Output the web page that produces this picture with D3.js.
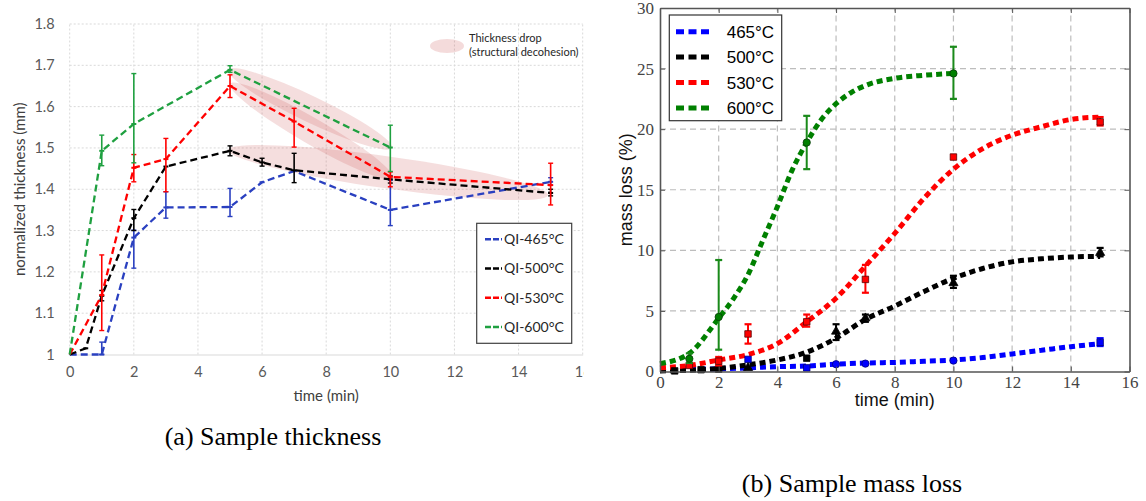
<!DOCTYPE html>
<html>
<head>
<meta charset="utf-8">
<script src="https://cdn.jsdelivr.net/npm/d3@7"></script>
<style>
body { margin: 0; background: #fff; }
svg { display: block; }
</style>
</head>
<body>
<svg id="fig" width="1146" height="501"></svg>
<script>
// ---- (a) sample thickness ----
var thickLabels = ["QI-465°C", "QI-500°C", "QI-530°C", "QI-600°C"];
var thickColors = ["#2a40c0", "#000000", "#ff0000", "#1fa040"];

var t465 = [0, 1, 2, 3, 5, 6, 7, 10, 15];
var h465 = [1.0, 1.0, 1.283, 1.356, 1.357, 1.417, 1.444, 1.350, 1.418];
var e465 = [null, [1.0, 1.03], [1.209, 1.301], [1.330, 1.394], [1.334, 1.402], null, null, [1.312, 1.422], [1.41, 1.428]];

var t500 = [0, 0.5, 1, 2, 3, 5, 6, 7, 10, 15];
var h500 = [1.0, 1.015, 1.142, 1.33, 1.455, 1.493, 1.465, 1.446, 1.424, 1.391];
var e500 = [null, null, [1.13, 1.155], [1.30, 1.351], null, [1.481, 1.505], [1.456, 1.475], [1.416, 1.487], [1.415, 1.432], [1.384, 1.40]];

var t530 = [0, 1, 2, 3, 5, 7, 10, 15];
var h530 = [1.0, 1.144, 1.452, 1.473, 1.650, 1.564, 1.430, 1.410];
var e530 = [null, [1.058, 1.241], [1.418, 1.484], [1.394, 1.523], [1.622, 1.677], [1.502, 1.596], [1.406, 1.442], [1.362, 1.463]];

var t600 = [0, 1, 2, 5, 10];
var h600 = [1.0, 1.493, 1.558, 1.689, 1.501];
var e600 = [null, [1.457, 1.531], [1.464, 1.680], [1.683, 1.699], [1.443, 1.555]];

// "thickness drop" zones: start and end of each band (time, thickness)
var dropFrom = [[4.94, 1.689], [5.0, 1.655], [4.94, 1.495]];
var dropTo   = [[10.05, 1.50], [10.08, 1.427], [14.92, 1.386]];

var thickXTicks = [0, 2, 4, 6, 8, 10, 12, 14, 16];
var thickYTicks = [1, 1.1, 1.2, 1.3, 1.4, 1.5, 1.6, 1.7, 1.8];

// ---- (b) sample mass loss ----
var massLabels = ["465°C", "500°C", "530°C", "600°C"];
var massColors = ["#0000ff", "#000000", "#ff0000", "#008000"];

// fitted curves
var fitT = [0, 1, 2, 3, 4, 5, 6, 7, 8, 9, 10, 11, 12, 13, 14, 15];
var fit465 = [0.15, 0.18, 0.22, 0.3, 0.4, 0.45, 0.6, 0.7, 0.75, 0.85, 0.95, 1.15, 1.45, 1.75, 2.05, 2.3];
var fit500 = [0.05, 0.1, 0.25, 0.55, 0.95, 1.6, 2.75, 4.3, 5.4, 6.6, 7.7, 8.5, 9.05, 9.3, 9.45, 9.5];
var fit530 = [0.3, 0.5, 0.95, 1.4, 2.3, 4.1, 6.05, 8.7, 11.4, 14.3, 16.7, 18.4, 19.5, 20.2, 20.8, 21.0];
var fit600T = [0, 1, 2, 2.5, 3, 3.5, 4, 4.5, 5, 5.5, 6, 6.5, 7, 8, 9, 10];
var fit600 = [0.65, 1.5, 4.4, 6.0, 8.0, 10.8, 13.6, 16.6, 18.9, 20.8, 22.1, 23.0, 23.6, 24.2, 24.45, 24.6];

// measured points (marker: c circle, s square, t triangle)
var p465T = [3, 5, 6, 7, 10, 15];
var p465 = [1.0, 0.3, 0.6, 0.65, 0.9, 2.4];
var p465E = [null, null, null, null, null, [2.1, 2.75]];
var p465M = ["s", "s", "c", "c", "c", "s"];

var p500T = [0.5, 1.4, 2, 3, 5, 6, 7, 10, 15];
var p500 = [0.05, 0.15, 0.2, 0.3, 1.1, 3.3, 4.4, 7.3, 9.8];
var p500E = [null, null, null, null, null, [2.6, 3.9], [4.1, 4.7], [6.9, 7.9], [9.5, 10.2]];
var p500M = ["s", "s", "s", "t", "s", "t", "t", "t", "t"];

var p530T = [1, 2, 3, 5, 7, 10, 15];
var p530 = [0.5, 0.85, 3.1, 4.1, 7.6, 17.7, 20.6];
var p530E = [null, [0.5, 1.2], [2.3, 3.9], [3.7, 4.7], [6.5, 8.8], null, [20.3, 21.0]];
var p530M = ["s", "s", "s", "s", "s", "s", "s"];

var p600T = [1, 2, 5, 10];
var p600 = [1.05, 4.5, 18.9, 24.6];
var p600E = [[0.7, 1.5], [1.8, 9.2], [16.7, 21.1], [22.5, 26.8]];
var p600M = ["c", "c", "c", "c"];

var massXTicks = [0, 2, 4, 6, 8, 10, 12, 14, 16];
var massYTicks = [0, 5, 10, 15, 20, 25, 30];

var svg = d3.select("#fig");

function zip(ts, vs, es, ms) {
  return ts.map(function(t, i) {
    return { t: t, v: vs[i], e: es ? es[i] : null, m: ms ? ms[i] : null };
  });
}

// =========================== chart (a) ===========================
var sansA = "Lato, 'Open Sans', sans-serif";
var xA = d3.scaleLinear().domain([0, 16]).range([69.7, 582.7]);
var yA = d3.scaleLinear().domain([1, 1.8]).range([354.5, 24]);

// the original panel is cropped just right of the last tick
svg.append("clipPath").attr("id", "clipA").append("rect")
  .attr("x", 0).attr("y", 0).attr("width", 584).attr("height", 420);
var gA = svg.append("g").attr("clip-path", "url(#clipA)");

// dotted grid
gA.append("g").selectAll("line").data(thickYTicks.slice(1)).enter().append("line")
  .attr("x1", xA(0)).attr("x2", xA(16))
  .attr("y1", function(d) { return yA(d); }).attr("y2", function(d) { return yA(d); })
  .attr("stroke", "#d9d9d9").attr("stroke-width", 1).attr("stroke-dasharray", "2,2");
gA.append("g").selectAll("line").data(thickXTicks).enter().append("line")
  .attr("x1", function(d) { return xA(d); }).attr("x2", function(d) { return xA(d); })
  .attr("y1", yA(1)).attr("y2", yA(1.8))
  .attr("stroke", "#d9d9d9").attr("stroke-width", 1).attr("stroke-dasharray", "2,2");

// drop zones
var dropHalf = [13, 13, 16];
dropFrom.forEach(function(a, i) {
  var b = dropTo[i];
  var x1 = xA(a[0]), y1 = yA(a[1]), x2 = xA(b[0]), y2 = yA(b[1]);
  var cx = (x1 + x2) / 2, cy = (y1 + y2) / 2;
  var len = Math.sqrt((x2 - x1) * (x2 - x1) + (y2 - y1) * (y2 - y1));
  var ang = Math.atan2(y2 - y1, x2 - x1) * 180 / Math.PI;
  gA.append("ellipse")
    .attr("cx", 0).attr("cy", 0).attr("rx", len / 2).attr("ry", dropHalf[i])
    .attr("transform", "translate(" + cx + "," + cy + ") rotate(" + ang + ")")
    .attr("fill", "rgb(205,90,90)").attr("fill-opacity", 0.2);
});

// axes
var axA_x = d3.axisBottom(xA).tickValues(thickXTicks).tickSize(0).tickPadding(12).tickFormat(d3.format("d"));
var axA_y = d3.axisLeft(yA).tickValues(thickYTicks).tickSize(0).tickPadding(15)
  .tickFormat(function(d) { return d === 1 ? "1" : d3.format(".1f")(d); });
var gax = gA.append("g").attr("transform", "translate(0," + yA(1) + ")").call(axA_x);
gax.select(".domain").attr("stroke", "#d9d9d9").attr("stroke-width", 1.2);
var gay = gA.append("g").attr("transform", "translate(" + xA(0) + ",0)").call(axA_y);
gay.select(".domain").remove();
gA.selectAll(".tick text").attr("fill", "#595959").style("font-family", sansA).style("font-size", "14.5px");

gA.append("text").attr("x", (xA(0) + xA(16)) / 2).attr("y", 401)
  .attr("text-anchor", "middle").attr("fill", "#404040")
  .style("font-family", sansA).style("font-size", "15px").text("time (min)");
gA.append("text").attr("transform", "translate(25," + ((yA(1) + yA(1.8)) / 2) + ") rotate(-90)")
  .attr("text-anchor", "middle").attr("fill", "#404040")
  .style("font-family", sansA).style("font-size", "15px").text("normalized thickness (mm)");

// series
var thickSeries = [zip(t465, h465, e465), zip(t500, h500, e500), zip(t530, h530, e530), zip(t600, h600, e600)];
var lineA = d3.line().x(function(d) { return xA(d.t); }).y(function(d) { return yA(d.v); });
thickSeries.forEach(function(s, i) {
  var c = thickColors[i];
  var gs = gA.append("g");
  gs.append("path").attr("d", lineA(s)).attr("fill", "none").attr("stroke", c)
    .attr("stroke-width", 2.3).attr("stroke-dasharray", "7,4");
  var eb = s.filter(function(d) { return d.e; });
  gs.selectAll(".eb").data(eb).enter().append("line")
    .attr("x1", function(d) { return xA(d.t); }).attr("x2", function(d) { return xA(d.t); })
    .attr("y1", function(d) { return yA(d.e[0]); }).attr("y2", function(d) { return yA(d.e[1]); })
    .attr("stroke", c).attr("stroke-width", 1.6);
  [0, 1].forEach(function(k) {
    gs.selectAll(".cap" + k).data(eb).enter().append("line")
      .attr("x1", function(d) { return xA(d.t) - 2.5; }).attr("x2", function(d) { return xA(d.t) + 2.5; })
      .attr("y1", function(d) { return yA(d.e[k]); }).attr("y2", function(d) { return yA(d.e[k]); })
      .attr("stroke", c).attr("stroke-width", 1.4);
  });
  gs.selectAll(".mk").data(s.slice(1)).enter().append("line")
    .attr("x1", function(d) { return xA(d.t) - 2.5; }).attr("x2", function(d) { return xA(d.t) + 2.5; })
    .attr("y1", function(d) { return yA(d.v); }).attr("y2", function(d) { return yA(d.v); })
    .attr("stroke", c).attr("stroke-width", 2);
});

// legend (a)
var legA = gA.append("g");
legA.append("rect").attr("x", 476.7).attr("y", 223.3).attr("width", 95).attr("height", 120)
  .attr("fill", "#fff").attr("stroke", "#404040").attr("stroke-width", 1.2);
thickLabels.forEach(function(lab, i) {
  var yy = 239.3 + i * 29.2;
  legA.append("line").attr("x1", 485).attr("x2", 502).attr("y1", yy).attr("y2", yy)
    .attr("stroke", thickColors[i]).attr("stroke-width", 2.5).attr("stroke-dasharray", "6,2");
  legA.append("text").attr("x", 504).attr("y", yy).attr("dy", "0.35em").attr("fill", "#262626")
    .style("font-family", sansA).style("font-size", "14px").text(lab);
});
legA.append("ellipse").attr("cx", 447).attr("cy", 46).attr("rx", 17).attr("ry", 7)
  .attr("fill", "rgb(205,90,90)").attr("fill-opacity", 0.22);
legA.append("text").attr("x", 469).attr("y", 42).attr("fill", "#262626")
  .style("font-family", sansA).style("font-size", "11px").text("Thickness drop");
legA.append("text").attr("x", 469).attr("y", 56).attr("fill", "#262626")
  .style("font-family", sansA).style("font-size", "11px").text("(structural decohesion)");

// =========================== chart (b) ===========================
var serif = "'Liberation Serif', 'DejaVu Serif', serif";
var sansB = "'Liberation Sans', Arial, sans-serif";
var xB = d3.scaleLinear().domain([0, 16]).range([660, 1129.5]);
var yB = d3.scaleLinear().domain([0, 30]).range([371.5, 8]);
var gB = svg.append("g");

// dashed grid
gB.append("g").selectAll("line").data(massYTicks.slice(1, -1)).enter().append("line")
  .attr("x1", xB(0)).attr("x2", xB(16))
  .attr("y1", function(d) { return yB(d); }).attr("y2", function(d) { return yB(d); })
  .attr("stroke", "#bdbdbd").attr("stroke-width", 1.2).attr("stroke-dasharray", "6,4");
gB.append("g").selectAll("line").data(massXTicks.slice(1, -1)).enter().append("line")
  .attr("x1", function(d) { return xB(d); }).attr("x2", function(d) { return xB(d); })
  .attr("y1", yB(0)).attr("y2", yB(30))
  .attr("stroke", "#bdbdbd").attr("stroke-width", 1.2).attr("stroke-dasharray", "6,4");

// fitted curves
var fits = [zip(fitT, fit465), zip(fitT, fit500), zip(fitT, fit530), zip(fit600T, fit600)];
var lineB = d3.line().curve(d3.curveMonotoneX)
  .x(function(d) { return xB(d.t); }).y(function(d) { return yB(d.v); });
fits.forEach(function(s, i) {
  gB.append("path").attr("d", lineB(s)).attr("fill", "none").attr("stroke", massColors[i])
    .attr("stroke-width", 5).attr("stroke-dasharray", "6,4");
});

// measured points with error bars
var pts = [zip(p465T, p465, p465E, p465M), zip(p500T, p500, p500E, p500M),
           zip(p530T, p530, p530E, p530M), zip(p600T, p600, p600E, p600M)];
var barColors = ["#0000ff", "#000000", "#ff0000", "#1a8a1a"];
var edgeColors = ["#00007a", "#000000", "#5a0000", "#0a3a0a"];
var symType = { c: d3.symbolCircle, s: d3.symbolSquare, t: d3.symbolTriangle };
pts.forEach(function(s, i) {
  var c = barColors[i];
  var gs = gB.append("g");
  var eb = s.filter(function(d) { return d.e; });
  gs.selectAll(".eb").data(eb).enter().append("line")
    .attr("x1", function(d) { return xB(d.t); }).attr("x2", function(d) { return xB(d.t); })
    .attr("y1", function(d) { return yB(d.e[0]); }).attr("y2", function(d) { return yB(d.e[1]); })
    .attr("stroke", c).attr("stroke-width", 2);
  [0, 1].forEach(function(k) {
    gs.selectAll(".cap" + k).data(eb).enter().append("line")
      .attr("x1", function(d) { return xB(d.t) - 3.5; }).attr("x2", function(d) { return xB(d.t) + 3.5; })
      .attr("y1", function(d) { return yB(d.e[k]); }).attr("y2", function(d) { return yB(d.e[k]); })
      .attr("stroke", c).attr("stroke-width", 2.2);
  });
  gs.selectAll(".mk").data(s).enter().append("path")
    .attr("transform", function(d) { return "translate(" + xB(d.t) + "," + yB(d.v) + ")"; })
    .attr("d", function(d) { return d3.symbol().type(symType[d.m]).size(d.m === "t" ? 36 : 42)(); })
    .attr("fill", massColors[i]).attr("stroke", edgeColors[i]).attr("stroke-width", 0.8);
});

// frame, inward ticks, labels
var axB_x = d3.axisBottom(xB).tickValues(massXTicks).tickSizeInner(-5).tickSizeOuter(0).tickPadding(4);
var axB_y = d3.axisLeft(yB).tickValues(massYTicks).tickSizeInner(-5).tickSizeOuter(0).tickPadding(6);
var axB_t = d3.axisTop(xB).tickValues(massXTicks).tickSizeInner(-5).tickSizeOuter(0).tickFormat("");
var axB_r = d3.axisRight(yB).tickValues(massYTicks).tickSizeInner(-5).tickSizeOuter(0).tickFormat("");
var gbx = gB.append("g").attr("transform", "translate(0," + yB(0) + ")").call(axB_x);
var gby = gB.append("g").attr("transform", "translate(" + xB(0) + ",0)").call(axB_y);
var gbt = gB.append("g").attr("transform", "translate(0," + yB(30) + ")").call(axB_t);
var gbr = gB.append("g").attr("transform", "translate(" + xB(16) + ",0)").call(axB_r);
[gbx, gby, gbt, gbr].forEach(function(g) {
  g.select(".domain").attr("stroke", "#555").attr("stroke-width", 1.6);
  g.selectAll(".tick line").attr("stroke", "#555").attr("stroke-width", 1);
});
gB.selectAll(".tick text").attr("fill", "#444").style("font-family", serif).style("font-size", "17px");

gB.append("text").attr("x", (xB(0) + xB(16)) / 2).attr("y", 406)
  .attr("text-anchor", "middle").attr("fill", "#111")
  .style("font-family", sansB).style("font-size", "18px").text("time (min)");
gB.append("text").attr("transform", "translate(632," + ((yB(0) + yB(30)) / 2) + ") rotate(-90)")
  .attr("text-anchor", "middle").attr("fill", "#111")
  .style("font-family", sansB).style("font-size", "18px").text("mass loss (%)");

// legend (b)
var legB = gB.append("g");
legB.append("rect").attr("x", 669.3).attr("y", 15).attr("width", 112.4).attr("height", 105.7)
  .attr("fill", "#fff").attr("stroke", "#333").attr("stroke-width", 1.2);
massLabels.forEach(function(lab, i) {
  var yy = 31.7 + i * 25.4;
  legB.append("line").attr("x1", 676).attr("x2", 709).attr("y1", yy).attr("y2", yy)
    .attr("stroke", massColors[i]).attr("stroke-width", 5).attr("stroke-dasharray", "8,4.5");
  legB.append("text").attr("x", 726.7).attr("y", yy).attr("dy", "0.36em").attr("fill", "#000")
    .style("font-family", sansB).style("font-size", "17px").text(lab);
});

// captions
svg.append("text").attr("x", 273).attr("y", 445).attr("text-anchor", "middle")
  .style("font-family", serif).style("font-size", "26px").attr("fill", "#000").text("(a) Sample thickness");
svg.append("text").attr("x", 852).attr("y", 492).attr("text-anchor", "middle")
  .style("font-family", serif).style("font-size", "26px").attr("fill", "#000").text("(b) Sample mass loss");
</script>
</body>
</html>
